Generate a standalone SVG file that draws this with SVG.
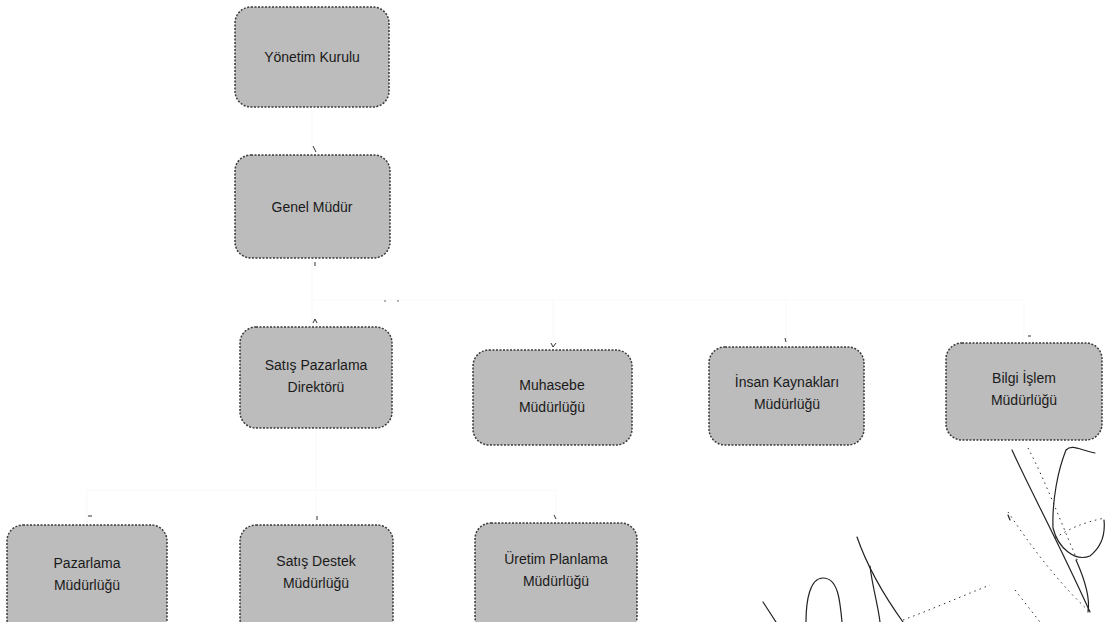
<svg xmlns="http://www.w3.org/2000/svg" width="1105" height="622" viewBox="0 0 1105 622">
<style>
.box{fill:#bcbcbc;stroke:#3a3a3a;stroke-width:1.5;stroke-dasharray:2 1.5}
.lbl{font-family:"Liberation Sans",Arial,sans-serif;font-size:14px;fill:#1a1a1a;text-anchor:middle}
.con{fill:none;stroke:#f9f9f9;stroke-width:1}
.tick{fill:none;stroke:#333;stroke-width:1}
.scr{fill:none;stroke:#222;stroke-width:1.2;stroke-linecap:round}
.dot{fill:none;stroke:#333;stroke-width:1;stroke-dasharray:1.5 4}
</style>
<rect width="1105" height="622" fill="#fff"/>
<g id="connectors">
<path class="con" d="M312,107 V153"/>
<path class="con" d="M312,258 V325"/>
<path class="con" d="M312,300 H1024 M553,300 V348 M786,300 V345 M1024,300 V341"/>
<path class="con" d="M316,428 V490 M87,490 H556 M87,490 V523 M316,490 V523 M556,490 V521"/>
<circle cx="385" cy="301" r="0.8" fill="#555"/>
<circle cx="398" cy="301" r="0.8" fill="#555"/>
<path class="tick" d="M313,146 L316,152"/>
<path class="tick" d="M315,262 V266"/>
<path class="tick" d="M313,323 L315,319 L317,323"/>
<path class="tick" d="M551,343 L553,347 L556,343"/>
<path class="tick" d="M785,338 L786,342"/>
<path class="tick" d="M1028,336 H1031"/>
<path class="tick" d="M88,516 H92"/>
<path class="tick" d="M317,516 V520"/>
<path class="tick" d="M554,515 L556,519"/>
</g>
<g id="n1"><rect class="box" x="235" y="7" width="154" height="100" rx="16"/><text class="lbl" x="312" y="62">Yönetim Kurulu</text></g>
<g id="n2"><rect class="box" x="235" y="155" width="155" height="103" rx="16"/><text class="lbl" x="312" y="212">Genel Müdür</text></g>
<g id="n3"><rect class="box" x="240" y="327" width="152" height="101" rx="16"/><text class="lbl" x="316" y="370">Satış Pazarlama</text><text class="lbl" x="316" y="392">Direktörü</text></g>
<g id="n4"><rect class="box" x="473" y="350" width="159" height="95" rx="16"/><text class="lbl" x="552" y="390">Muhasebe</text><text class="lbl" x="552" y="412">Müdürlüğü</text></g>
<g id="n5"><rect class="box" x="709" y="347" width="155" height="98" rx="16"/><text class="lbl" x="787" y="387">İnsan Kaynakları</text><text class="lbl" x="787" y="409">Müdürlüğü</text></g>
<g id="n6"><rect class="box" x="946" y="343" width="156" height="97" rx="16"/><text class="lbl" x="1024" y="383">Bilgi İşlem</text><text class="lbl" x="1024" y="405">Müdürlüğü</text></g>
<g id="n7"><rect class="box" x="7" y="525" width="160" height="110" rx="16"/><text class="lbl" x="87" y="568">Pazarlama</text><text class="lbl" x="87" y="590">Müdürlüğü</text></g>
<g id="n8"><rect class="box" x="240" y="525" width="153" height="110" rx="16"/><text class="lbl" x="316" y="566">Satış Destek</text><text class="lbl" x="316" y="588">Müdürlüğü</text></g>
<g id="n9"><rect class="box" x="475" y="523" width="162" height="110" rx="16"/><text class="lbl" x="556" y="564">Üretim Planlama</text><text class="lbl" x="556" y="586">Müdürlüğü</text></g>
<g id="scribbles">
<path class="scr" d="M1012,450 C1030,490 1055,535 1090,612"/>
<path class="dot" d="M1028,448 C1045,480 1060,520 1078,562"/>
<path class="scr" d="M1095,453 C1080,450 1072,444 1066,450 C1058,470 1052,500 1053,528 C1058,548 1075,562 1090,556 C1104,545 1105,530 1104,520"/>
<path class="dot" d="M1055,538 C1070,528 1085,522 1105,518"/>
<path class="dot" d="M1008,512 C1030,545 1060,585 1090,612"/>
<path class="scr" d="M1008,515 L1010,520"/>
<path class="scr" d="M1076,560 C1085,580 1090,600 1088,612"/>
<path class="dot" d="M1015,590 L1040,622"/>
<path class="scr" d="M857,537 C865,560 880,590 903,622"/>
<path class="scr" d="M870,566 C872,585 878,605 880,622"/>
<path class="dot" d="M903,620 C930,610 960,597 990,585"/>
<path class="scr" d="M806,622 C806,600 810,578 823,578 C838,578 840,600 842,622"/>
<path class="scr" d="M763,602 L776,622"/>
</g>
</svg>
